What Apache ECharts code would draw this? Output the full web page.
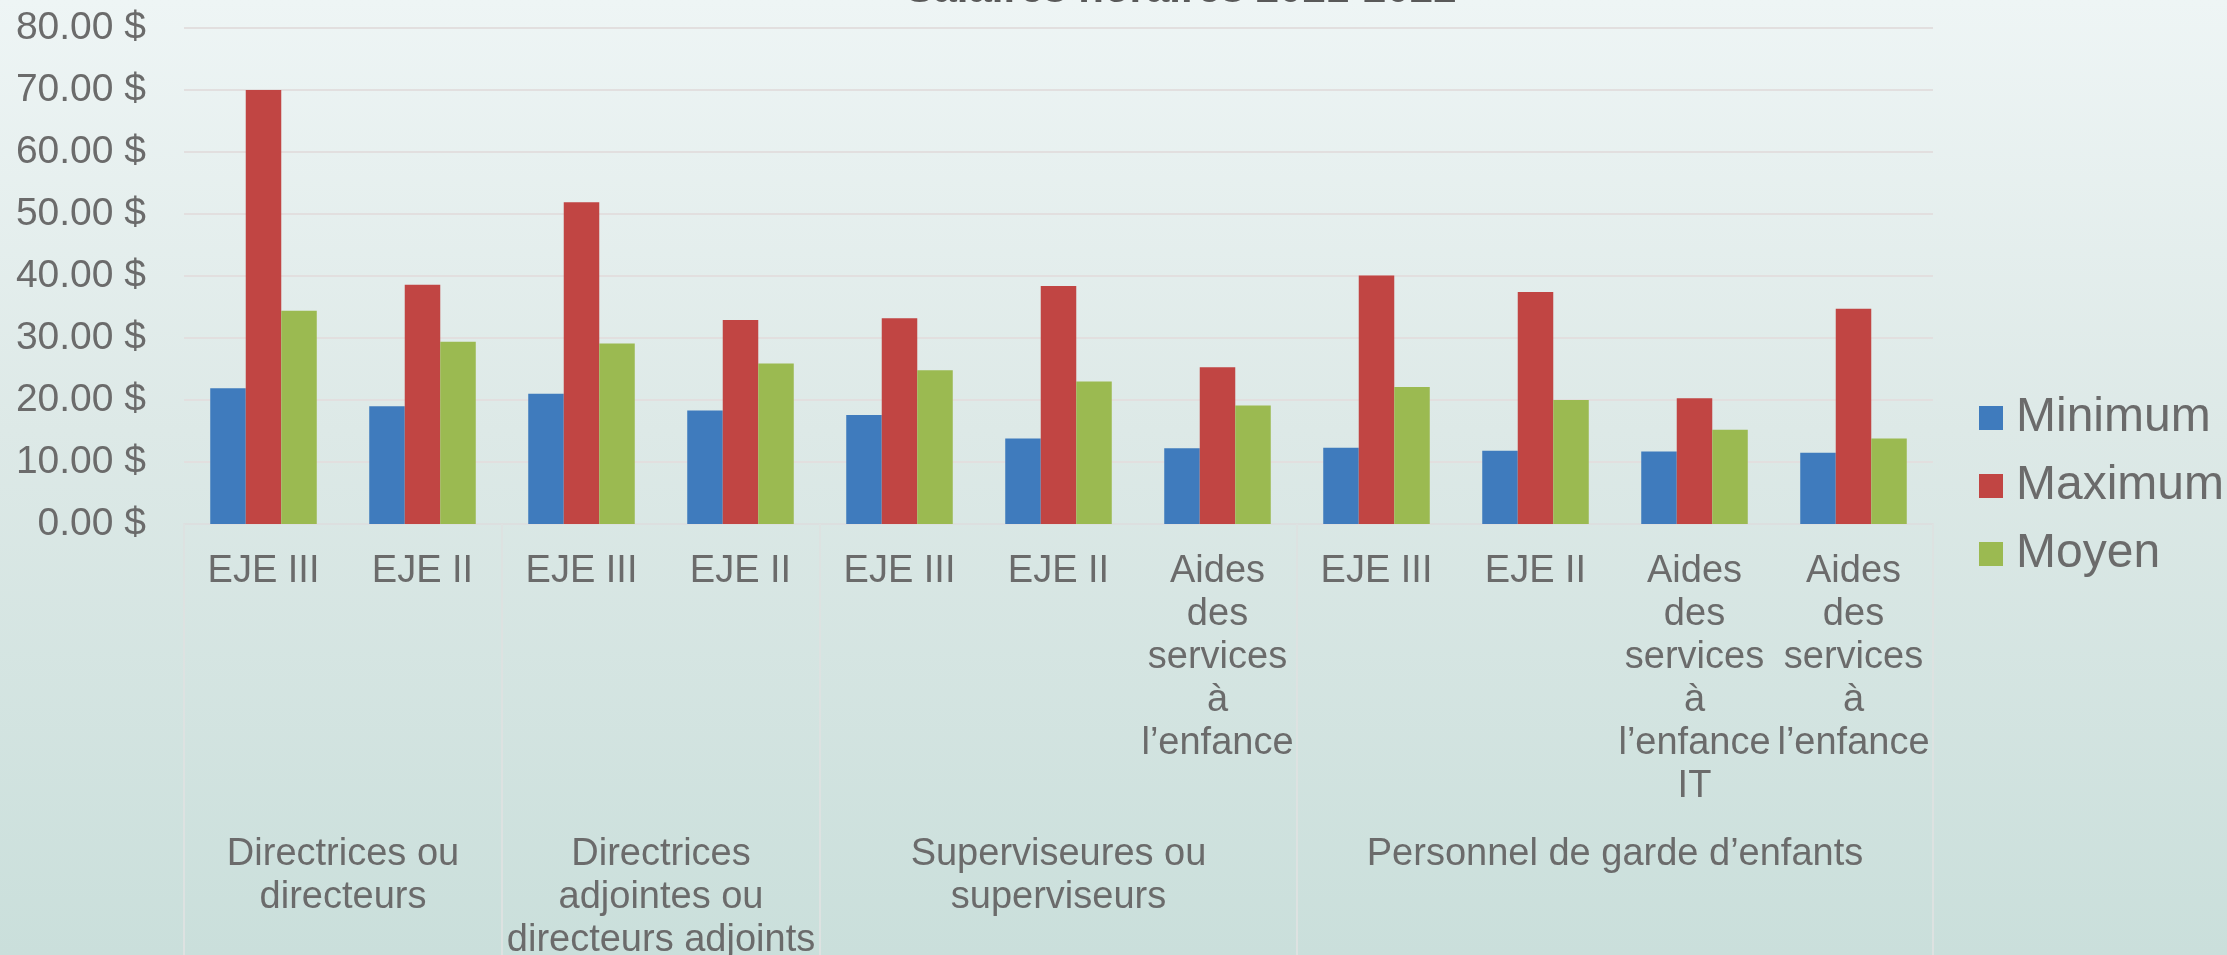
<!DOCTYPE html>
<html>
<head>
<meta charset="utf-8">
<script src="https://cdn.jsdelivr.net/npm/echarts@6/dist/echarts.min.js"></script>
<style>
html,body{margin:0;padding:0;width:2227px;height:955px;overflow:hidden;}
#chart{width:2227px;height:955px;}
</style>
</head>
<body>
<div id="chart"></div>
<script>
// ---- data ----
const chartTitle = "Salaires horaires 2021-2022";
const categories = [
  "EJE III", "EJE II",
  "EJE III", "EJE II",
  "EJE III", "EJE II", "Aides\ndes\nservices\nà\nl’enfance",
  "EJE III", "EJE II", "Aides\ndes\nservices\nà\nl’enfance\nIT", "Aides\ndes\nservices\nà\nl’enfance"
];
const groupNames = [
  "Directrices ou\ndirecteurs",
  "Directrices\nadjointes ou\ndirecteurs adjoints",
  "Superviseures ou\nsuperviseurs",
  "Personnel de garde d’enfants"
];
const groupSizes = [2, 2, 3, 4];
const seriesNames = ["Minimum", "Maximum", "Moyen"];
const minimumValues = [21.9, 19.0, 21.0, 18.3, 17.6, 13.8, 12.2, 12.3, 11.8, 11.7, 11.5];
const maximumValues = [70.0, 38.6, 51.9, 32.9, 33.2, 38.4, 25.3, 40.1, 37.4, 20.3, 34.7];
const moyenValues   = [34.4, 29.4, 29.1, 25.9, 24.8, 23.0, 19.1, 22.1, 20.0, 15.2, 13.8];
const yTicks = { min: 0, max: 80, interval: 10 };

// ---- build second-level axis (half-category points) ----
const nCat = categories.length;
const halfPoints = [];
for (let i = 0; i <= nCat * 2; i++) halfPoints.push(i / 2);
const boundaries = [0];
const centers = {};
let acc = 0;
groupSizes.forEach((s, gi) => {
  centers[acc + s / 2] = groupNames[gi];
  acc += s;
  boundaries.push(acc);
});
const groupAxisData = halfPoints.map(p => centers[p] !== undefined ? centers[p] : '');

const textColor = '#6b6b6b';
const font = 'Liberation Sans, Arial, sans-serif';

const chart = echarts.init(document.getElementById('chart'));
chart.setOption({
  backgroundColor: {
    type: 'linear', x: 0, y: 0, x2: 0, y2: 1,
    colorStops: [
      { offset: 0, color: '#eef5f5' },
      { offset: 0.45, color: '#dde9e7' },
      { offset: 1, color: '#cadfdb' }
    ]
  },
  textStyle: { fontFamily: font },
  title: {
    text: chartTitle,
    left: 1181,
    textAlign: 'center',
    top: -31,
    padding: 0,
    textStyle: { fontSize: 42, fontWeight: 'bold', color: '#595959', fontFamily: font }
  },
  legend: {
    orient: 'vertical',
    left: 1974,
    top: 389,
    itemWidth: 24,
    itemHeight: 24,
    itemGap: 20,
    icon: 'rect',
    data: seriesNames,
    textStyle: { fontSize: 48, lineHeight: 48, color: textColor, fontFamily: font, padding: [0, 0, 0, 8] }
  },
  grid: { left: 184, right: 294, top: 28, bottom: 431, containLabel: false, outerBoundsMode: 'none' },
  xAxis: [
    {
      type: 'category',
      data: categories,
      position: 'bottom',
      axisLine: { show: true, lineStyle: { color: '#dcdfdf', width: 2 } },
      axisTick: { show: false },
      axisLabel: {
        interval: 0, margin: 26, fontSize: 38, lineHeight: 43, color: textColor,
        fontFamily: font, align: 'center', verticalAlign: 'top'
      }
    },
    {
      type: 'category',
      data: groupAxisData,
      position: 'bottom',
      boundaryGap: false,
      axisLine: { show: false },
      axisTick: {
        show: true, length: 431,
        interval: (idx) => boundaries.indexOf(halfPoints[idx]) >= 0,
        lineStyle: { color: '#dde2e1', width: 2 }
      },
      axisLabel: {
        interval: (idx) => centers[halfPoints[idx]] !== undefined,
        margin: 309, fontSize: 38, lineHeight: 43, color: textColor,
        fontFamily: font, align: 'center', verticalAlign: 'top'
      }
    }
  ],
  yAxis: {
    type: 'value',
    min: yTicks.min, max: yTicks.max, interval: yTicks.interval,
    axisLine: { show: false },
    axisTick: { show: false },
    splitLine: { lineStyle: { color: '#e2dfdf', width: 2 } },
    axisLabel: {
      margin: 38, fontSize: 39, color: textColor, fontFamily: font,
      formatter: v => v.toFixed(2) + ' $'
    }
  },
  series: [
    { name: seriesNames[0], type: 'bar', data: minimumValues, barGap: '0%', barCategoryGap: '33%', itemStyle: { color: '#3f7bbd' } },
    { name: seriesNames[1], type: 'bar', data: maximumValues, barGap: '0%', barCategoryGap: '33%', itemStyle: { color: '#c14543' } },
    { name: seriesNames[2], type: 'bar', data: moyenValues, barGap: '0%', barCategoryGap: '33%', itemStyle: { color: '#9bba51' } }
  ],
  animation: false
});
</script>
</body>
</html>
